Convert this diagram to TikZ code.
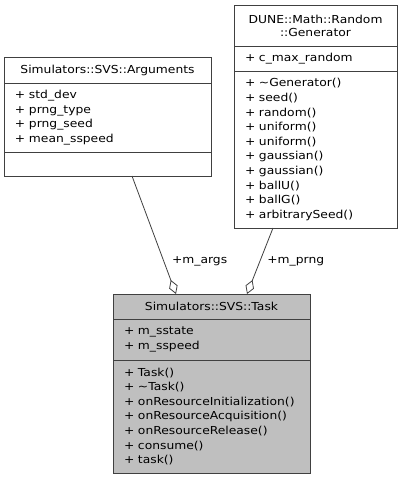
\documentclass[tikz,border=0pt]{standalone}
\usepackage{fontspec}
\newfontfamily\umlfont{DejaVu Sans}[FakeStretch=1.12]
\usetikzlibrary{arrows.meta, positioning}
\definecolor{edgegray}{RGB}{64,64,64}
\definecolor{taskfill}{RGB}{191,191,191}

\begin{document}
\begin{tikzpicture}[
    x=1pt, y=-1pt,
    part/.style={rectangle, draw=edgegray, fill=white, outer sep=0pt, inner ysep=0pt, inner xsep=11pt, font=\umlfont\fontsize{11}{14.6}\selectfont, text=black, line width=0.9pt},
    head/.style={part, align=center},
    body/.style={part, align=left},
    agg/.style={{Diamond[open, length=15pt, width=9pt]}-, draw=edgegray, line width=0.8pt},
    role/.style={font=\umlfont\fontsize{11}{14.6}\selectfont, inner sep=0pt}
]
\useasboundingbox (0,0) rectangle (401,480);

% Simulators::SVS::Arguments
\node[head, text width=185pt, minimum height=26pt, anchor=north west] (argsT) at (4,57) {Simulators::SVS::Arguments};
\node[body, text width=185pt, minimum height=69pt, below=0pt of argsT] (argsA) {+ std\_dev\\+ prng\_type\\+ prng\_seed\\+ mean\_sspeed};
\node[body, text width=185pt, minimum height=24pt, below=0pt of argsA] (argsM) {};

% DUNE::Math::Random::Generator
\node[head, text width=141pt, minimum height=41pt, anchor=north west, font=\umlfont\fontsize{11}{13}\selectfont] (genT) at (234,5) {DUNE::Math::Random\\::Generator};
\node[body, text width=141pt, minimum height=25pt, below=0pt of genT] (genA) {+ c\_max\_random};
\node[body, text width=141pt, minimum height=157pt, below=0pt of genA] (genM) {+ \textasciitilde Generator()\\+ seed()\\+ random()\\+ uniform()\\+ uniform()\\+ gaussian()\\+ gaussian()\\+ ballU()\\+ ballG()\\+ arbitrarySeed()};

% Simulators::SVS::Task
\node[head, text width=175pt, minimum height=25pt, anchor=north west, fill=taskfill] (taskT) at (113,294) {Simulators::SVS::Task};
\node[body, text width=175pt, minimum height=41pt, below=0pt of taskT, fill=taskfill] (taskA) {+ m\_sstate\\+ m\_sspeed};
\node[body, text width=175pt, minimum height=113pt, below=0pt of taskA, fill=taskfill] (taskM) {+ Task()\\+ \textasciitilde Task()\\+ onResourceInitialization()\\+ onResourceAcquisition()\\+ onResourceRelease()\\+ consume()\\+ task()};

% aggregations
\draw[agg] ([xshift=-35.5pt]taskT.north) -- ([xshift=24.5pt]argsM.south) node[role, pos=0.28, anchor=west, xshift=8pt] {+m\_args};
\draw[agg] ([xshift=35.5pt]taskT.north) -- ([xshift=-42.5pt]genM.south) node[role, pos=0.5, anchor=west, xshift=7pt] {+m\_prng};
\end{tikzpicture}
\end{document}
